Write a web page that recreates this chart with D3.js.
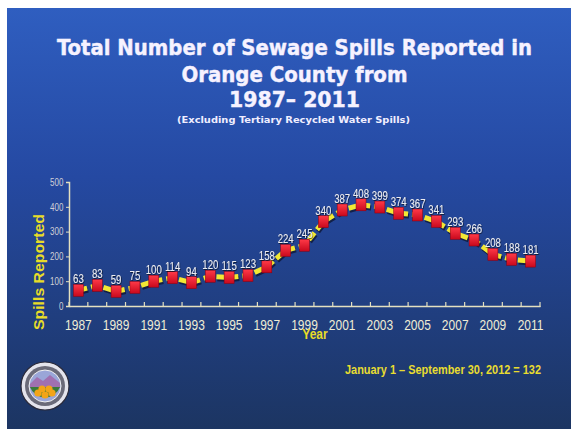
<!DOCTYPE html>
<html>
<head>
<meta charset="utf-8">
<script src="https://d3js.org/d3.v7.min.js"></script>
<style>
  body { margin: 0; background: #fff; }
  svg { display: block; }
</style>
</head>
<body>
<script>
// data
const YEARS = ['1987','1988','1989','1990','1991','1992','1993','1994','1995','1996','1997','1998','1999',
               '2000','2001','2002','2003','2004','2005','2006','2007','2008','2009','2010','2011'];
const SPILLS = [63, 83, 59, 75, 100, 114, 94, 120, 115, 123, 158, 224, 245,
                340, 387, 408, 399, 374, 367, 341, 293, 266, 208, 188, 181];
const Y_TICKS = [0, 100, 200, 300, 400, 500];
const X_LABELS = ['1987','1989','1991','1993','1995','1997','1999','2001','2003','2005','2007','2009','2011'];

const TITLE_LINES = ['Total Number of Sewage Spills Reported in', 'Orange County from', '1987\u2013 2011'];
const SUBTITLE = '(Excluding Tertiary Recycled Water Spills)';
const NOTE = 'January 1 \u2013 September 30, 2012 = 132';

const W = 576, H = 434;
const ARIAL = '"Liberation Sans", Arial, sans-serif';
const TITLE_FONT = '"DejaVu Sans Condensed", "DejaVu Sans", sans-serif';
const NARROW = 0.8; // horizontal squeeze to mimic Arial Narrow

const svg = d3.select('body').append('svg').attr('width', W).attr('height', H);
const defs = svg.append('defs');

// background gradient
const bg = defs.append('linearGradient').attr('id', 'bg').attr('x1', 0).attr('y1', 0).attr('x2', 0).attr('y2', 1);
bg.append('stop').attr('offset', '0%').attr('stop-color', '#2f5ec0');
bg.append('stop').attr('offset', '40%').attr('stop-color', '#2549a2');
bg.append('stop').attr('offset', '100%').attr('stop-color', '#1c3562');

const red = defs.append('linearGradient').attr('id', 'red').attr('x1', 0).attr('y1', 0).attr('x2', 0).attr('y2', 1);
red.append('stop').attr('offset', '0%').attr('stop-color', '#ff3a48');
red.append('stop').attr('offset', '100%').attr('stop-color', '#c8081c');

const shadow = defs.append('filter').attr('id', 'shadow');
shadow.append('feDropShadow').attr('dx', 0.8).attr('dy', 0.8).attr('stdDeviation', 0.4)
  .attr('flood-color', '#000').attr('flood-opacity', 0.7);

svg.append('rect').attr('x', 7).attr('y', 8).attr('width', 564).attr('height', 421)
  .attr('fill', 'url(#bg)');

// titles
const titleY = [55, 82, 107];
const titleW = [475, 226, 131];
svg.append('g').selectAll('text')
  .data(TITLE_LINES)
  .join('text')
  .attr('x', 294.5)
  .attr('y', (d, i) => titleY[i])
  .attr('text-anchor', 'middle')
  .attr('font-family', TITLE_FONT)
  .attr('font-weight', 'bold')
  .attr('font-size', 21.5)
  .attr('fill', '#f6f2ff')
  .attr('stroke', '#f6f2ff')
  .attr('stroke-width', 0.4)
  .attr('textLength', (d, i) => titleW[i])
  .attr('lengthAdjust', 'spacingAndGlyphs')
  .text(d => d);

svg.append('text')
  .attr('x', 293.5).attr('y', 123)
  .attr('text-anchor', 'middle')
  .attr('font-family', TITLE_FONT)
  .attr('font-weight', 'bold')
  .attr('font-size', 9.5)
  .attr('fill', '#f0eeff')
  .attr('textLength', 233)
  .attr('lengthAdjust', 'spacingAndGlyphs')
  .text(SUBTITLE);

// scales
const x = d3.scaleBand().domain(YEARS).range([69, 540]);
const y = d3.scaleLinear().domain([0, 500]).range([306, 182]);
const cx = d => x(d) + x.bandwidth() / 2;

// y axis
const yAxis = svg.append('g').attr('transform', 'translate(69,0)')
  .call(d3.axisLeft(y).tickValues(Y_TICKS).tickSize(3).tickPadding(4));
yAxis.select('.domain').attr('stroke', '#e4e0c0').attr('stroke-width', 1.5);
yAxis.selectAll('.tick line').attr('stroke', '#e4e0c0');
yAxis.selectAll('.tick text')
  .attr('font-family', ARIAL).attr('font-size', 10).attr('fill', '#cfd0d6')
  .attr('transform', `scale(${NARROW},1)`);

// x axis
const xAxis = svg.append('g').attr('transform', 'translate(0,306)')
  .call(d3.axisBottom(x).tickSize(0).tickPadding(13)
    .tickFormat(d => X_LABELS.includes(d) ? d : ''));
xAxis.select('.domain').attr('stroke', '#e4e0c0').attr('stroke-width', 1.5);
xAxis.selectAll('.tick text')
  .attr('font-family', ARIAL).attr('font-size', 15).attr('fill', '#efecd4')
  .attr('transform', `scale(${NARROW},1)`);
// boundary ticks
const edges = YEARS.map(d => x(d)).concat([x.range()[1]]);
svg.append('g').selectAll('line')
  .data(edges)
  .join('line')
  .attr('x1', d => d).attr('x2', d => d)
  .attr('y1', 302).attr('y2', 307)
  .attr('stroke', '#e4e0c0').attr('stroke-width', 1.2);

// axis titles
svg.append('text')
  .attr('transform', 'translate(44,272) rotate(-90)')
  .attr('text-anchor', 'middle')
  .attr('font-family', ARIAL)
  .attr('font-weight', 'bold')
  .attr('font-size', 15)
  .attr('fill', '#e8dc28')
  .attr('textLength', 116)
  .attr('lengthAdjust', 'spacingAndGlyphs')
  .text('Spills Reported');

svg.append('text')
  .attr('transform', `translate(315,339) scale(${NARROW},1)`)
  .attr('text-anchor', 'middle')
  .attr('font-family', ARIAL)
  .attr('font-weight', 'bold')
  .attr('font-size', 15)
  .attr('fill', '#e8dc28')
  .text('Year');

// line
const line = d3.line().x((d, i) => cx(YEARS[i])).y(d => y(d));
svg.append('path')
  .datum(SPILLS)
  .attr('d', line)
  .attr('transform', 'translate(1,2)')
  .attr('fill', 'none')
  .attr('stroke', '#0d1430')
  .attr('stroke-opacity', 0.75)
  .attr('stroke-width', 5)
  .attr('stroke-dasharray', '9,4');
svg.append('path')
  .datum(SPILLS)
  .attr('d', line)
  .attr('fill', 'none')
  .attr('stroke', '#f2e834')
  .attr('stroke-width', 5)
  .attr('stroke-dasharray', '9,4');

// markers
svg.append('g').selectAll('rect')
  .data(SPILLS)
  .join('rect')
  .attr('x', (d, i) => cx(YEARS[i]) - 5)
  .attr('y', d => y(d) - 6)
  .attr('width', 10)
  .attr('height', 12)
  .attr('fill', 'url(#red)')
  .attr('stroke', '#8a0010')
  .attr('stroke-width', 0.5);

// value labels
svg.append('g').selectAll('text')
  .data(SPILLS)
  .join('text')
  .attr('transform', (d, i) => `translate(${cx(YEARS[i])},${y(d) - 7}) scale(${NARROW},1)`)
  .attr('text-anchor', 'middle')
  .attr('font-family', ARIAL)
  .attr('font-size', 12)
  .attr('fill', '#ececf0')
  .attr('filter', 'url(#shadow)')
  .text(d => d);

// footnote
svg.append('text')
  .attr('x', 345).attr('y', 374)
  .attr('font-family', ARIAL)
  .attr('font-weight', 'bold')
  .attr('font-size', 12)
  .attr('fill', '#e8dc30')
  .attr('textLength', 196)
  .attr('lengthAdjust', 'spacingAndGlyphs')
  .text(NOTE);

// county seal (decoration)
const seal = svg.append('g').attr('transform', 'translate(45,386)');
seal.append('circle').attr('r', 24).attr('fill', '#e4e4ec').attr('stroke', '#2a2a3a').attr('stroke-width', 1.2);
seal.append('circle').attr('r', 20).attr('fill', '#6a6a78');
seal.append('circle').attr('r', 16).attr('fill', '#9aa6d8').attr('stroke', '#f0f0f0').attr('stroke-width', 1);
seal.append('path').attr('d', 'M-15,-2 L-8,-9 L-2,-5 L5,-11 L15,-3 L15,2 L-15,2 Z').attr('fill', '#a070b0');
seal.append('path').attr('d', 'M-15,1 L15,1 A16,16 0 0 1 -15,1 Z').attr('fill', '#3a7a3a');
[[-7, 7], [0, 9], [7, 7], [-3, 3], [4, 3]].forEach(p => {
  seal.append('circle').attr('cx', p[0]).attr('cy', p[1]).attr('r', 3.6).attr('fill', '#f2a418');
});
</script>
</body>
</html>
